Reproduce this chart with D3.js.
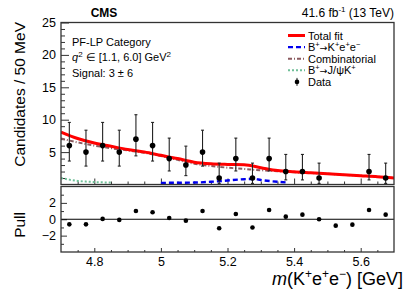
<!DOCTYPE html>
<html>
<head>
<meta charset="utf-8">
<script src="https://cdnjs.cloudflare.com/ajax/libs/d3/7.8.5/d3.min.js"></script>
<style>
  body { margin: 0; background: #fff; }
  svg { display: block; font-family: "Liberation Sans", Arial, Helvetica, sans-serif; }
  .frame { fill: none; stroke: #333; stroke-width: 1.3; }
  .tick line { stroke: #333; }
  .arrow { font-family: "DejaVu Sans", sans-serif; }
</style>
</head>
<body>
<svg id="chart" width="407" height="292"></svg>
<script>
  // bins of 50 MeV
  const binMass = [4.725, 4.775, 4.825, 4.875, 4.925, 4.975, 5.025, 5.075, 5.125, 5.175,
                   5.225, 5.275, 5.325, 5.375, 5.425, 5.475, 5.525, 5.575, 5.625, 5.675];
  const counts  = [6, 5, 6, 5, 7, 6, 4, 3, 5, 1, 4, 1, 4, 2, 2, 1, 0, 0, 2, 1];
  const errLo   = [2.38, 2.16, 2.38, 2.16, 2.58, 2.38, 1.91, 1.63, 2.16, 0.83,
                   1.91, 0.83, 1.91, 1.29, 1.29, 0.83, 0, 0, 1.29, 0.83];
  const errHi   = [3.58, 3.38, 3.58, 3.38, 3.77, 3.58, 3.16, 2.92, 3.38, 2.30,
                   3.16, 2.30, 3.16, 2.64, 2.64, 2.30, 1.84, 1.84, 2.64, 2.30];
  const pulls   = [-0.62, -0.62, 0.04, -0.08, 1.0, 0.85, 0.15, -0.17, 1.0, -1.1,
                   0.64, -1.0, 1.13, 0.32, 0.56, 0.0, -0.78, -0.66, 1.13, 0.56];

  // fit components
  const curveMass = [4.70, 4.75, 4.80, 4.85, 4.90, 4.95, 5.00, 5.05, 5.10, 5.15, 5.20,
                     5.25, 5.30, 5.35, 5.40, 5.45, 5.50, 5.55, 5.60, 5.65, 5.70];
  const totalFit  = [8.1, 7.1, 6.4, 5.9, 5.4, 5.0, 4.5, 4.0, 3.45, 3.2, 3.1,
                     3.05, 2.6, 2.15, 1.95, 1.8, 1.65, 1.5, 1.35, 1.2, 1.0];
  const combFit   = [7.1, 6.5, 6.0, 5.6, 5.25, 4.9, 4.4, 3.8, 3.2, 2.85, 2.6,
                     2.4, 2.2, 2.05, 1.9, 1.78, 1.65, 1.5, 1.35, 1.2, 1.0];
  const sigMass   = [5.00, 5.05, 5.10, 5.15, 5.20, 5.25, 5.28, 5.30, 5.35, 5.38];
  const sigFit    = [0.25, 0.27, 0.3, 0.42, 0.62, 0.82, 0.86, 0.7, 0.42, 0.3];
  const jpsiMass  = [4.70, 4.725, 4.75, 4.775, 4.80, 4.825, 4.85];
  const jpsiFit   = [1.0, 0.75, 0.55, 0.45, 0.38, 0.33, 0.3];

  const xMajor = [4.8, 5.0, 5.2, 5.4, 5.6];
  const xMinor = [4.75, 4.85, 4.9, 4.95, 5.05, 5.1, 5.15, 5.25, 5.3, 5.35, 5.45, 5.5, 5.55, 5.65];
  const yMajor = [5, 10, 15, 20, 25];
  const yMinor = [1, 2, 3, 4, 6, 7, 8, 9, 11, 12, 13, 14, 16, 17, 18, 19, 21, 22, 23, 24];
  const pullMajor = [-2, 0, 2];
  const pullMinor = [-3, -1, 1, 3];

  // legend labels as [text, 0 plain / 1 superscript / 2 arrow] pieces
  const legendItems = [
    { kind: "total", parts: [["Total fit", 0]] },
    { kind: "sig",   parts: [["B", 0], ["+", 1], ["\u2192", 2], ["K", 0], ["+", 1], ["e", 0], ["+", 1], ["e", 0], ["\u2212", 1]] },
    { kind: "comb",  parts: [["Combinatorial", 0]] },
    { kind: "jpsi",  parts: [["B", 0], ["+", 1], ["\u2192", 2], ["J/\u03c8K", 0], ["+", 1]] },
    { kind: "data",  parts: [["Data", 0]] }
  ];

  const svg = d3.select("#chart");
  const left = 61, right = 394;
  const main = { top: 22.5, bottom: 184.5 };
  const pull = { top: 186.5, bottom: 252 };

  const x = d3.scaleLinear().domain([4.7, 5.7]).range([left, right]);
  const y = d3.scaleLinear().domain([0, 25]).range([main.bottom, main.top]);
  const yp = d3.scaleLinear().domain([-4, 4]).range([pull.bottom, pull.top]);

  svg.append("defs").append("clipPath").attr("id", "clipMain")
    .append("rect").attr("x", left).attr("y", main.top)
    .attr("width", right - left).attr("height", main.bottom - main.top);

  // writes pieces into a text node, raising the superscript ones
  function richText(t, parts, size, supSize, rise) {
    let up = false;
    parts.forEach(([s, kind]) => {
      const sp = t.append("tspan").text(s);
      const sup = kind === 1;
      if (sup && !up) { sp.attr("dy", -rise); up = true; }
      else if (!sup && up) { sp.attr("dy", rise); up = false; }
      if (sup) sp.attr("font-size", supSize);
      if (kind === 2) sp.attr("class", "arrow").attr("font-size", size * 0.85);
    });
  }

  // ---- axes, main panel
  function ticks(g, axis) {
    g.call(axis);
    g.select(".domain").remove();
    g.selectAll("text").attr("fill", "#000");
  }
  svg.append("g").attr("transform", `translate(${left},0)`)
    .call(g => ticks(g, d3.axisLeft(y).tickValues(yMinor).tickSize(-4).tickFormat("")));
  svg.append("g").attr("transform", `translate(${left},0)`)
    .call(g => ticks(g, d3.axisLeft(y).tickValues(yMajor).tickSize(-8).tickPadding(5)))
    .selectAll("text").attr("font-size", 12.5);
  svg.append("g").attr("transform", `translate(0,${main.bottom})`)
    .call(g => ticks(g, d3.axisBottom(x).tickValues(xMinor).tickSize(-3).tickFormat("")));
  svg.append("g").attr("transform", `translate(0,${main.bottom})`)
    .call(g => ticks(g, d3.axisBottom(x).tickValues(xMajor).tickSize(-6).tickFormat("")));

  // ---- axes, pull panel
  svg.append("g").attr("transform", `translate(${left},0)`)
    .call(g => ticks(g, d3.axisLeft(yp).tickValues(pullMinor).tickSize(-3).tickFormat("")));
  svg.append("g").attr("transform", `translate(${left},0)`)
    .call(g => ticks(g, d3.axisLeft(yp).tickValues(pullMajor).tickSize(-6).tickPadding(5)
      .tickFormat(d => d < 0 ? "\u2212" + Math.abs(d) : d)))
    .selectAll("text").attr("font-size", 12.5);
  svg.append("g").attr("transform", `translate(0,${pull.bottom})`)
    .call(g => ticks(g, d3.axisBottom(x).tickValues(xMinor).tickSize(-2).tickFormat("")));
  svg.append("g").attr("transform", `translate(0,${pull.bottom})`)
    .call(g => ticks(g, d3.axisBottom(x).tickValues(xMajor).tickSize(-4).tickPadding(5)
      .tickFormat(d3.format(".1~f"))))
    .selectAll("text").attr("font-size", 12.5);

  // ---- fit curves
  const plot = svg.append("g").attr("clip-path", "url(#clipMain)");
  const line = (xs) => d3.line().x((d, i) => x(xs[i])).y(d => y(d)).curve(d3.curveMonotoneX);

  plot.append("path").datum(jpsiFit).attr("d", line(jpsiMass))
    .attr("fill", "none").attr("stroke", "#6fbf98").attr("stroke-width", 2).attr("stroke-dasharray", "2,2");
  plot.append("path").datum(sigFit).attr("d", line(sigMass))
    .attr("fill", "none").attr("stroke", "#0000ee").attr("stroke-width", 2.4).attr("stroke-dasharray", "5,3");
  plot.append("path").datum(combFit).attr("d", line(curveMass))
    .attr("fill", "none").attr("stroke", "#8a5a5f").attr("stroke-width", 2).attr("stroke-dasharray", "4,2,1,2");
  plot.append("path").datum(totalFit).attr("d", line(curveMass))
    .attr("fill", "none").attr("stroke", "#ff0000").attr("stroke-width", 3);

  // ---- data points
  const pts = binMass.map((m, i) => ({ m, n: counts[i], lo: errLo[i], hi: errHi[i] }));
  const shown = pts.filter(d => d.n > 0);
  const bars = svg.append("g").attr("stroke", "#222").attr("stroke-width", 1.1);
  bars.selectAll("line.v").data(shown).join("line")
    .attr("x1", d => x(d.m)).attr("x2", d => x(d.m))
    .attr("y1", d => y(d.n - d.lo)).attr("y2", d => y(d.n + d.hi));
  bars.selectAll("line.t").data(shown).join("line")
    .attr("x1", d => x(d.m) - 1.5).attr("x2", d => x(d.m) + 1.5)
    .attr("y1", d => y(d.n + d.hi)).attr("y2", d => y(d.n + d.hi));
  bars.selectAll("line.b").data(shown).join("line")
    .attr("x1", d => x(d.m) - 1.5).attr("x2", d => x(d.m) + 1.5)
    .attr("y1", d => y(d.n - d.lo)).attr("y2", d => y(d.n - d.lo));
  svg.append("g").selectAll("circle").data(shown).join("circle")
    .attr("cx", d => x(d.m)).attr("cy", d => y(d.n)).attr("r", 2.8).attr("fill", "#000");

  // ---- pulls
  svg.append("line").attr("x1", left).attr("x2", right)
    .attr("y1", yp(0)).attr("y2", yp(0)).attr("stroke", "#000").attr("stroke-width", 1);
  svg.append("g").selectAll("circle").data(pulls).join("circle")
    .attr("cx", (d, i) => x(binMass[i])).attr("cy", d => yp(d)).attr("r", 2.3).attr("fill", "#000");

  // ---- frames
  svg.append("rect").attr("class", "frame").attr("x", left).attr("y", main.top)
    .attr("width", right - left).attr("height", main.bottom - main.top);
  svg.append("rect").attr("class", "frame").attr("x", left).attr("y", pull.top)
    .attr("width", right - left).attr("height", pull.bottom - pull.top);

  // ---- titles and labels
  svg.append("text").attr("transform", "translate(25,22) rotate(-90)")
    .attr("text-anchor", "end").attr("font-size", 15.5).text("Candidates / 50 MeV");
  svg.append("text").attr("transform", "translate(25,212) rotate(-90)")
    .attr("text-anchor", "end").attr("font-size", 15.5).text("Pull");

  const xt = svg.append("text").attr("x", 403).attr("y", 285).attr("text-anchor", "end").attr("font-size", 18);
  xt.append("tspan").attr("font-style", "italic").text("m");
  richText(xt, [["(K", 0], ["+", 1], ["e", 0], ["+", 1], ["e", 0], ["\u2212", 1], [") [GeV]", 0]], 18, 12, 7);

  svg.append("text").attr("x", 104).attr("y", 17).attr("text-anchor", "middle")
    .attr("font-size", 12).attr("font-weight", "bold").text("CMS");
  const lumi = svg.append("text").attr("x", 394).attr("y", 17).attr("text-anchor", "end").attr("font-size", 12);
  richText(lumi, [["41.6 fb", 0], ["-1", 1], [" (13 TeV)", 0]], 12, 8, 5);

  const info = svg.append("g").attr("font-size", 11);
  info.append("text").attr("x", 72).attr("y", 45.5).text("PF-LP Category");
  const q = info.append("text").attr("x", 72).attr("y", 61);
  q.append("tspan").attr("font-style", "italic").text("q");
  richText(q, [["2", 1], [" \u2208 [1.1, 6.0] GeV", 0], ["2", 1]], 11, 8, 4);
  info.append("text").attr("x", 72).attr("y", 76.5).text("Signal: 3 \u00b1 6");

  // ---- legend
  const leg = svg.append("g").attr("font-size", 11);
  const style = {
    total: { stroke: "#ff0000", w: 3, dash: null },
    sig:   { stroke: "#0000ee", w: 2.4, dash: "5,3" },
    comb:  { stroke: "#8a5a5f", w: 2, dash: "4,2,1,2" },
    jpsi:  { stroke: "#6fbf98", w: 2, dash: "2,2" }
  };
  legendItems.forEach((it, i) => {
    const cy = 35.5 + i * 11.6;
    const row = leg.append("g").attr("transform", `translate(0,${cy})`);
    if (it.kind === "data") {
      row.append("line").attr("x1", 297).attr("x2", 297).attr("y1", -4).attr("y2", 4)
        .attr("stroke", "#222").attr("stroke-width", 1);
      row.append("circle").attr("cx", 297).attr("cy", 0).attr("r", 2.3);
    } else {
      const s = style[it.kind];
      row.append("line").attr("x1", 288).attr("x2", 305).attr("y1", 0).attr("y2", 0)
        .attr("stroke", s.stroke).attr("stroke-width", s.w).attr("stroke-dasharray", s.dash);
    }
    const t = row.append("text").attr("x", 308).attr("y", 4);
    richText(t, it.parts, 11, 7.5, 4);
  });
</script>
</body>
</html>
